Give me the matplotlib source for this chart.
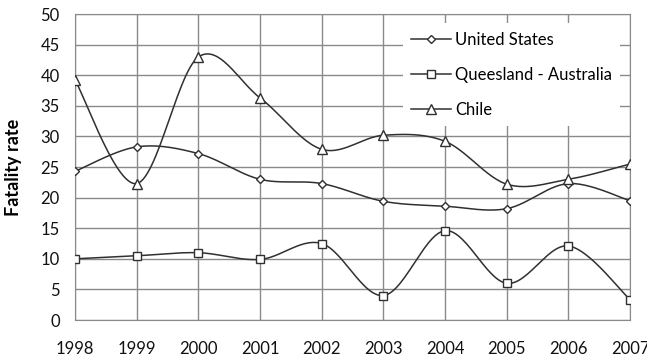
import numpy as np
import matplotlib.pyplot as plt

years = [1998, 1999, 2000, 2001, 2002, 2003, 2004, 2005, 2006, 2007]
us = [24.3, 28.3, 27.2, 23.0, 22.3, 19.4, 18.6, 18.2, 22.3, 19.5]
queensland = [10.0, 10.5, 11.0, 9.9, 12.5, 4.0, 14.6, 6.0, 12.1, 3.3]
chile = [39.2, 22.3, 43.0, 36.3, 27.9, 30.2, 29.2, 22.2, 23.0, 25.5]


def smooth(x, y, n=30):
    # cardinal spline through the points, like a spreadsheet "smoothed line"
    x = np.asarray(x, float)
    y = np.asarray(y, float)
    px = np.concatenate([[x[0]], x, [x[-1]]])
    py = np.concatenate([[y[0]], y, [y[-1]]])
    t = np.linspace(0, 1, n)
    xs, ys = [], []
    for i in range(1, len(px) - 2):
        p0, p1, p2, p3 = (np.array([px[j], py[j]]) for j in range(i - 1, i + 3))
        c1 = p1 + (p2 - p0) / 6
        c2 = p2 - (p3 - p1) / 6
        b = ((1 - t) ** 3)[:, None] * p1 + (3 * (1 - t) ** 2 * t)[:, None] * c1 \
            + (3 * (1 - t) * t ** 2)[:, None] * c2 + (t ** 3)[:, None] * p2
        xs.extend(b[:, 0])
        ys.extend(b[:, 1])
    return xs, ys


plt.rcParams['font.family'] = ['Lato', 'DejaVu Sans']

fig = plt.figure(figsize=(6.47, 3.62), dpi=100)
ax = fig.add_axes([0.116, 0.116, 0.858, 0.845])

series = [(us, 'D', 4.5, 'United States'),
          (queensland, 's', 6, 'Queesland - Australia'),
          (chile, '^', 7, 'Chile')]
lc = '#303030'
for vals, mk, ms, name in series:
    sx, sy = smooth(years, vals)
    ax.plot(sx, sy, color=lc, lw=1.1, zorder=3)
    ax.plot(years, vals, ls='none', marker=mk, ms=ms, mfc='white',
            mec=lc, mew=1.0, zorder=4)
    ax.plot([], [], color=lc, lw=1.1, marker=mk, ms=ms, mfc='white',
            mec=lc, mew=1.0, label=name)

ax.set_xlim(1998, 2007)
ax.set_ylim(0, 50)
ax.set_xticks(years)
ax.set_yticks(range(0, 51, 5))
ax.grid(True, color='#8a8a8a', lw=1.0)
ax.set_axisbelow(True)
for s in ax.spines.values():
    s.set_color('#8a8a8a')
ax.tick_params(length=0, labelsize=12, colors='#111111')
ax.tick_params(axis='x', pad=15)
ax.tick_params(axis='y', pad=11)
ax.set_ylabel('Fatality rate', fontsize=13, fontweight='bold', labelpad=8)
ax.yaxis.set_label_coords(-0.095, 0.5)

leg = ax.legend(loc='upper left', bbox_to_anchor=(0.59, 0.97), frameon=True,
                fontsize=12, handlelength=2.4, labelspacing=1.15,
                borderaxespad=0, borderpad=0.5, handletextpad=0.25)
leg.get_frame().set_edgecolor('none')
leg.get_frame().set_facecolor('white')
leg.get_frame().set_alpha(1)

fig.savefig('out.png', dpi=100)
